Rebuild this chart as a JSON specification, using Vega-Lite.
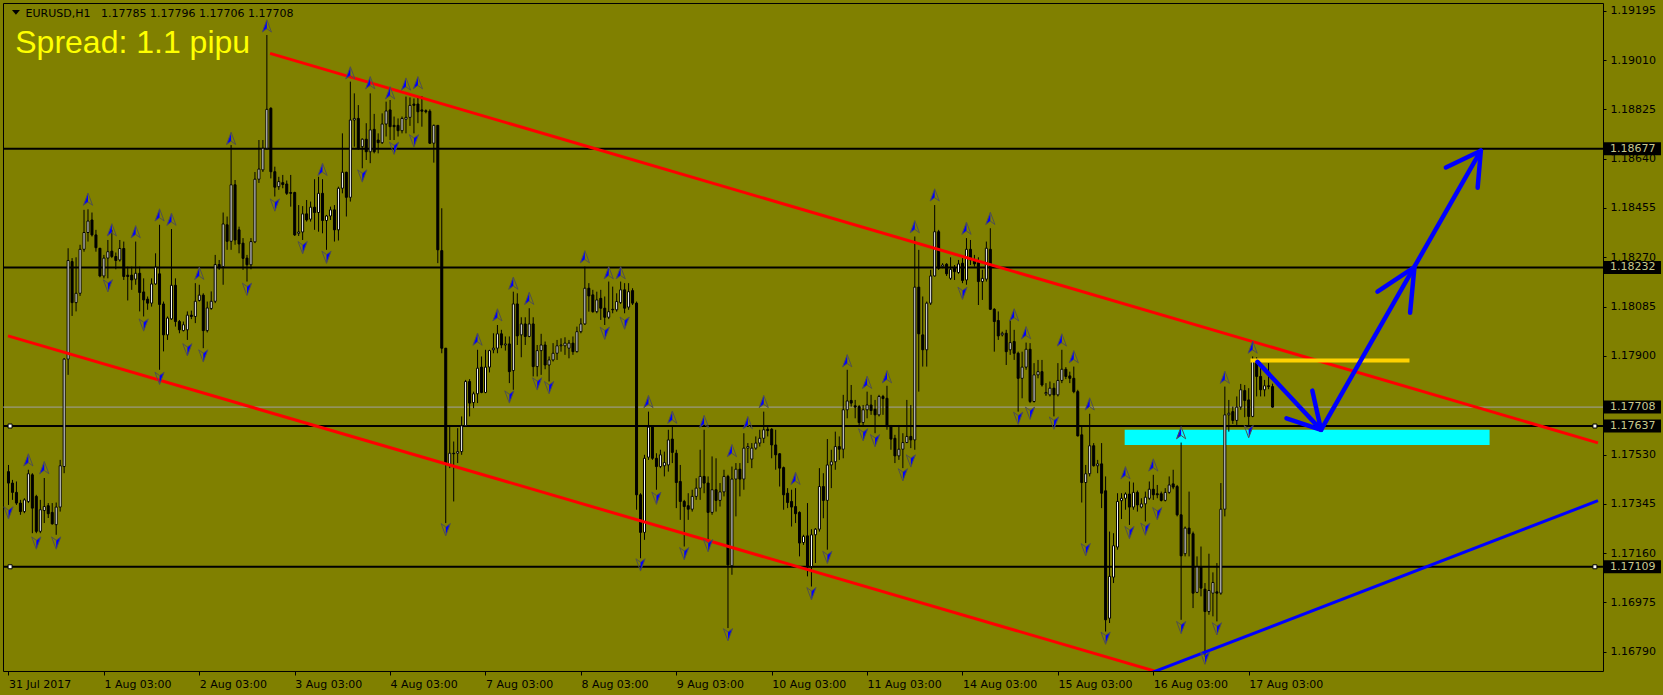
{
"$schema": "https://vega.github.io/schema/vega-lite/v6.json",
"width": 1600, "height": 668,
"autosize": {"type": "none"},
"padding": {"left": 3, "top": 3, "right": 60, "bottom": 24},
"background": "#808000",
"config": {"view": {"stroke": "#000000", "strokeWidth": 1}, "font": "DejaVu Sans"},
"datasets": {
"bars": [
{"i":0,"o":1.17466,"h":1.17491,"l":1.17341,"c":1.17423},
{"i":1,"o":1.17423,"h":1.17435,"l":1.1736,"c":1.17388},
{"i":2,"o":1.17388,"h":1.17429,"l":1.17341,"c":1.17348},
{"i":3,"o":1.17348,"h":1.1736,"l":1.17304,"c":1.17316},
{"i":4,"o":1.17316,"h":1.17366,"l":1.1731,"c":1.1736},
{"i":5,"o":1.17354,"h":1.17473,"l":1.17348,"c":1.17458},
{"i":6,"o":1.17454,"h":1.1746,"l":1.17235,"c":1.17329},
{"i":7,"o":1.17373,"h":1.17379,"l":1.17235,"c":1.17242},
{"i":8,"o":1.17242,"h":1.1736,"l":1.17235,"c":1.17323},
{"i":9,"o":1.1732,"h":1.17442,"l":1.17273,"c":1.17335},
{"i":10,"o":1.17338,"h":1.17348,"l":1.17292,"c":1.17308},
{"i":11,"o":1.17313,"h":1.17348,"l":1.17267,"c":1.1727},
{"i":12,"o":1.17267,"h":1.1735,"l":1.17229,"c":1.17333},
{"i":13,"o":1.17333,"h":1.1751,"l":1.17316,"c":1.17488},
{"i":14,"o":1.17485,"h":1.17892,"l":1.1746,"c":1.17888},
{"i":15,"o":1.17888,"h":1.18304,"l":1.17829,"c":1.18258},
{"i":16,"o":1.18254,"h":1.18267,"l":1.1805,"c":1.181},
{"i":17,"o":1.181,"h":1.1827,"l":1.18067,"c":1.18135},
{"i":18,"o":1.18135,"h":1.18317,"l":1.18125,"c":1.183},
{"i":19,"o":1.183,"h":1.18448,"l":1.18291,"c":1.18363},
{"i":20,"o":1.18363,"h":1.1845,"l":1.18329,"c":1.18406},
{"i":21,"o":1.1841,"h":1.18438,"l":1.18348,"c":1.18354},
{"i":22,"o":1.18354,"h":1.18373,"l":1.18291,"c":1.18306},
{"i":23,"o":1.18304,"h":1.18304,"l":1.18195,"c":1.182},
{"i":24,"o":1.182,"h":1.18279,"l":1.18191,"c":1.18267},
{"i":25,"o":1.18267,"h":1.18335,"l":1.18191,"c":1.18291},
{"i":26,"o":1.18293,"h":1.18373,"l":1.18267,"c":1.18273},
{"i":27,"o":1.18273,"h":1.18288,"l":1.18225,"c":1.18258},
{"i":28,"o":1.1826,"h":1.18335,"l":1.18254,"c":1.18303},
{"i":29,"o":1.18303,"h":1.18329,"l":1.18185,"c":1.18198},
{"i":30,"o":1.18203,"h":1.18235,"l":1.18108,"c":1.18198},
{"i":31,"o":1.18203,"h":1.18235,"l":1.18148,"c":1.18185},
{"i":32,"o":1.18188,"h":1.18329,"l":1.18167,"c":1.1821},
{"i":33,"o":1.1821,"h":1.18235,"l":1.18067,"c":1.18138},
{"i":34,"o":1.1814,"h":1.18191,"l":1.18048,"c":1.1811},
{"i":35,"o":1.18113,"h":1.18123,"l":1.18073,"c":1.18098},
{"i":36,"o":1.18098,"h":1.18191,"l":1.18085,"c":1.1817},
{"i":37,"o":1.1817,"h":1.18285,"l":1.18167,"c":1.18233},
{"i":38,"o":1.18208,"h":1.18392,"l":1.17848,"c":1.18093},
{"i":39,"o":1.18095,"h":1.18104,"l":1.17917,"c":1.17979},
{"i":40,"o":1.17979,"h":1.18048,"l":1.1796,"c":1.18042},
{"i":41,"o":1.18039,"h":1.18376,"l":1.18035,"c":1.18165},
{"i":42,"o":1.18165,"h":1.18191,"l":1.1801,"c":1.18029},
{"i":43,"o":1.18029,"h":1.18035,"l":1.17985,"c":1.17998},
{"i":44,"o":1.17995,"h":1.18029,"l":1.17992,"c":1.18017},
{"i":45,"o":1.17998,"h":1.18067,"l":1.1796,"c":1.18053},
{"i":46,"o":1.18053,"h":1.1807,"l":1.18038,"c":1.18048},
{"i":47,"o":1.18048,"h":1.18173,"l":1.18023,"c":1.18105},
{"i":48,"o":1.18108,"h":1.18167,"l":1.18104,"c":1.18128},
{"i":49,"o":1.18128,"h":1.18135,"l":1.17929,"c":1.17995},
{"i":50,"o":1.17995,"h":1.18104,"l":1.17988,"c":1.1808},
{"i":51,"o":1.18078,"h":1.18142,"l":1.18073,"c":1.18105},
{"i":52,"o":1.18105,"h":1.18279,"l":1.18098,"c":1.18243},
{"i":53,"o":1.18243,"h":1.1826,"l":1.18223,"c":1.1823},
{"i":54,"o":1.18235,"h":1.18438,"l":1.18167,"c":1.18395},
{"i":55,"o":1.18392,"h":1.18423,"l":1.18298,"c":1.1833},
{"i":56,"o":1.1833,"h":1.18691,"l":1.18298,"c":1.18542},
{"i":57,"o":1.18542,"h":1.1856,"l":1.18317,"c":1.18335},
{"i":58,"o":1.18373,"h":1.18385,"l":1.18285,"c":1.1832},
{"i":59,"o":1.18323,"h":1.18342,"l":1.18223,"c":1.18266},
{"i":60,"o":1.18267,"h":1.18279,"l":1.18179,"c":1.18242},
{"i":61,"o":1.18242,"h":1.18342,"l":1.18225,"c":1.18329},
{"i":62,"o":1.18328,"h":1.1859,"l":1.18323,"c":1.18563},
{"i":63,"o":1.18563,"h":1.1871,"l":1.18549,"c":1.18601},
{"i":64,"o":1.18598,"h":1.1871,"l":1.1859,"c":1.18679},
{"i":65,"o":1.18679,"h":1.19104,"l":1.18673,"c":1.18825},
{"i":66,"o":1.18829,"h":1.18833,"l":1.18566,"c":1.18591},
{"i":67,"o":1.18591,"h":1.1861,"l":1.18498,"c":1.18533},
{"i":68,"o":1.18535,"h":1.18572,"l":1.18523,"c":1.18554},
{"i":69,"o":1.1855,"h":1.18579,"l":1.18529,"c":1.18543},
{"i":70,"o":1.18545,"h":1.18558,"l":1.18504,"c":1.1851},
{"i":71,"o":1.18513,"h":1.18579,"l":1.1846,"c":1.1851},
{"i":72,"o":1.18513,"h":1.18516,"l":1.1835,"c":1.18354},
{"i":73,"o":1.1836,"h":1.18466,"l":1.1835,"c":1.18365},
{"i":74,"o":1.18365,"h":1.18462,"l":1.18335,"c":1.18433},
{"i":75,"o":1.18433,"h":1.18485,"l":1.18404,"c":1.1841},
{"i":76,"o":1.18413,"h":1.18479,"l":1.18404,"c":1.18458},
{"i":77,"o":1.18458,"h":1.18563,"l":1.18373,"c":1.18438},
{"i":78,"o":1.18438,"h":1.18572,"l":1.18366,"c":1.1851},
{"i":79,"o":1.1851,"h":1.18563,"l":1.1836,"c":1.18408},
{"i":80,"o":1.18408,"h":1.18429,"l":1.18298,"c":1.18425},
{"i":81,"o":1.18425,"h":1.1846,"l":1.1841,"c":1.18448},
{"i":82,"o":1.18448,"h":1.18466,"l":1.18329,"c":1.18373},
{"i":83,"o":1.18373,"h":1.18535,"l":1.18333,"c":1.18529},
{"i":84,"o":1.18529,"h":1.18735,"l":1.1851,"c":1.18589},
{"i":85,"o":1.18589,"h":1.18591,"l":1.18423,"c":1.18495},
{"i":86,"o":1.18495,"h":1.18929,"l":1.18479,"c":1.18785},
{"i":87,"o":1.18785,"h":1.18885,"l":1.18685,"c":1.18791},
{"i":88,"o":1.18791,"h":1.18841,"l":1.18673,"c":1.18679},
{"i":89,"o":1.18685,"h":1.18716,"l":1.18604,"c":1.18713},
{"i":90,"o":1.18713,"h":1.18773,"l":1.18635,"c":1.18666},
{"i":91,"o":1.18666,"h":1.18885,"l":1.18623,"c":1.18748},
{"i":92,"o":1.1875,"h":1.18808,"l":1.1866,"c":1.18666},
{"i":93,"o":1.1871,"h":1.18735,"l":1.1866,"c":1.187},
{"i":94,"o":1.187,"h":1.1881,"l":1.18695,"c":1.1877},
{"i":95,"o":1.1877,"h":1.18854,"l":1.18723,"c":1.18819},
{"i":96,"o":1.18823,"h":1.1886,"l":1.1871,"c":1.1876},
{"i":97,"o":1.18765,"h":1.18798,"l":1.1871,"c":1.1876},
{"i":98,"o":1.18765,"h":1.18791,"l":1.18723,"c":1.18745},
{"i":99,"o":1.18745,"h":1.18798,"l":1.18735,"c":1.18791},
{"i":100,"o":1.18788,"h":1.18873,"l":1.18735,"c":1.18795},
{"i":101,"o":1.18795,"h":1.1887,"l":1.18763,"c":1.1884},
{"i":102,"o":1.18845,"h":1.18866,"l":1.18735,"c":1.1884},
{"i":103,"o":1.18845,"h":1.1887,"l":1.18773,"c":1.18816},
{"i":104,"o":1.18823,"h":1.18875,"l":1.1876,"c":1.18818},
{"i":105,"o":1.1882,"h":1.18825,"l":1.1881,"c":1.18816},
{"i":106,"o":1.18818,"h":1.18825,"l":1.18695,"c":1.18698},
{"i":107,"o":1.18698,"h":1.18768,"l":1.18625,"c":1.18765},
{"i":108,"o":1.18765,"h":1.18765,"l":1.18248,"c":1.18298},
{"i":109,"o":1.18295,"h":1.18454,"l":1.1791,"c":1.17929},
{"i":110,"o":1.17929,"h":1.17929,"l":1.17273,"c":1.17498},
{"i":111,"o":1.17491,"h":1.17641,"l":1.17479,"c":1.17535},
{"i":112,"o":1.17535,"h":1.17579,"l":1.17354,"c":1.17533},
{"i":113,"o":1.17535,"h":1.17629,"l":1.17498,"c":1.17541},
{"i":114,"o":1.17541,"h":1.17673,"l":1.17529,"c":1.17638},
{"i":115,"o":1.17638,"h":1.1781,"l":1.17635,"c":1.17804},
{"i":116,"o":1.17804,"h":1.17813,"l":1.17673,"c":1.17723},
{"i":117,"o":1.17725,"h":1.17766,"l":1.17704,"c":1.17758},
{"i":118,"o":1.17758,"h":1.17923,"l":1.17723,"c":1.17854},
{"i":119,"o":1.17858,"h":1.17898,"l":1.1776,"c":1.17763},
{"i":120,"o":1.17763,"h":1.17923,"l":1.1776,"c":1.17858},
{"i":121,"o":1.17858,"h":1.17923,"l":1.17838,"c":1.1792},
{"i":122,"o":1.17923,"h":1.17985,"l":1.1791,"c":1.17929},
{"i":123,"o":1.17929,"h":1.18016,"l":1.1791,"c":1.17983},
{"i":124,"o":1.17983,"h":1.17998,"l":1.17929,"c":1.17941},
{"i":125,"o":1.17941,"h":1.17973,"l":1.1792,"c":1.17945},
{"i":126,"o":1.17945,"h":1.17973,"l":1.17798,"c":1.17841},
{"i":127,"o":1.17845,"h":1.18141,"l":1.17773,"c":1.18095},
{"i":128,"o":1.18095,"h":1.18135,"l":1.17941,"c":1.17975},
{"i":129,"o":1.17979,"h":1.18045,"l":1.17895,"c":1.1802},
{"i":130,"o":1.1802,"h":1.18045,"l":1.17941,"c":1.17973},
{"i":131,"o":1.17973,"h":1.18079,"l":1.1797,"c":1.1802},
{"i":132,"o":1.1802,"h":1.18045,"l":1.17823,"c":1.1786},
{"i":133,"o":1.1786,"h":1.17941,"l":1.17823,"c":1.1792},
{"i":134,"o":1.1792,"h":1.17983,"l":1.17829,"c":1.17941},
{"i":135,"o":1.17941,"h":1.17954,"l":1.1785,"c":1.17866},
{"i":136,"o":1.17866,"h":1.17898,"l":1.17804,"c":1.17885},
{"i":137,"o":1.17885,"h":1.17948,"l":1.17879,"c":1.1791},
{"i":138,"o":1.1791,"h":1.1796,"l":1.17885,"c":1.17938},
{"i":139,"o":1.17938,"h":1.17966,"l":1.17916,"c":1.17941},
{"i":140,"o":1.17938,"h":1.1797,"l":1.17904,"c":1.17948},
{"i":141,"o":1.17929,"h":1.1796,"l":1.17891,"c":1.17948},
{"i":142,"o":1.17948,"h":1.17973,"l":1.17904,"c":1.17916},
{"i":143,"o":1.17916,"h":1.1801,"l":1.17913,"c":1.17991},
{"i":144,"o":1.17991,"h":1.18041,"l":1.17985,"c":1.1802},
{"i":145,"o":1.1802,"h":1.18235,"l":1.18016,"c":1.18154},
{"i":146,"o":1.18154,"h":1.18173,"l":1.18066,"c":1.18125},
{"i":147,"o":1.18129,"h":1.18148,"l":1.18062,"c":1.18066},
{"i":148,"o":1.18066,"h":1.18141,"l":1.1806,"c":1.1811},
{"i":149,"o":1.18116,"h":1.18148,"l":1.18035,"c":1.18079},
{"i":150,"o":1.18079,"h":1.18123,"l":1.18016,"c":1.18045},
{"i":151,"o":1.18045,"h":1.18179,"l":1.18038,"c":1.18066},
{"i":152,"o":1.18075,"h":1.1816,"l":1.1806,"c":1.18073},
{"i":153,"o":1.18073,"h":1.18135,"l":1.18066,"c":1.18104},
{"i":154,"o":1.181,"h":1.18179,"l":1.18095,"c":1.18148},
{"i":155,"o":1.18148,"h":1.18173,"l":1.1806,"c":1.18079},
{"i":156,"o":1.18083,"h":1.18173,"l":1.18073,"c":1.18141},
{"i":157,"o":1.18145,"h":1.18154,"l":1.18091,"c":1.18098},
{"i":158,"o":1.18098,"h":1.18104,"l":1.17323,"c":1.17379},
{"i":159,"o":1.17379,"h":1.17385,"l":1.17141,"c":1.17238},
{"i":160,"o":1.17238,"h":1.17529,"l":1.1721,"c":1.17516},
{"i":161,"o":1.1752,"h":1.17691,"l":1.1751,"c":1.17633},
{"i":162,"o":1.17633,"h":1.1764,"l":1.1751,"c":1.17516},
{"i":163,"o":1.17516,"h":1.17535,"l":1.17398,"c":1.17485},
{"i":164,"o":1.17485,"h":1.17548,"l":1.17479,"c":1.17529},
{"i":165,"o":1.17488,"h":1.17541,"l":1.17448,"c":1.175},
{"i":166,"o":1.17491,"h":1.17623,"l":1.17466,"c":1.17585},
{"i":167,"o":1.17588,"h":1.17635,"l":1.17498,"c":1.17538},
{"i":168,"o":1.17535,"h":1.17548,"l":1.17329,"c":1.17425},
{"i":169,"o":1.17429,"h":1.17491,"l":1.17285,"c":1.17354},
{"i":170,"o":1.17354,"h":1.1736,"l":1.17185,"c":1.17335},
{"i":171,"o":1.17338,"h":1.17385,"l":1.17285,"c":1.17325},
{"i":172,"o":1.17325,"h":1.17398,"l":1.17316,"c":1.17373},
{"i":173,"o":1.17373,"h":1.17441,"l":1.1736,"c":1.17404},
{"i":174,"o":1.17404,"h":1.17548,"l":1.1736,"c":1.17448},
{"i":175,"o":1.17448,"h":1.17623,"l":1.17385,"c":1.17423},
{"i":176,"o":1.17423,"h":1.17448,"l":1.1721,"c":1.17313},
{"i":177,"o":1.17313,"h":1.17523,"l":1.17304,"c":1.17398},
{"i":178,"o":1.17398,"h":1.17516,"l":1.17316,"c":1.17358},
{"i":179,"o":1.17358,"h":1.17423,"l":1.17335,"c":1.1739},
{"i":180,"o":1.1739,"h":1.17473,"l":1.17373,"c":1.17448},
{"i":181,"o":1.17448,"h":1.17454,"l":1.16879,"c":1.17116},
{"i":182,"o":1.17113,"h":1.17485,"l":1.17079,"c":1.17438},
{"i":183,"o":1.17438,"h":1.17498,"l":1.17298,"c":1.17475},
{"i":184,"o":1.17475,"h":1.17498,"l":1.17373,"c":1.17438},
{"i":185,"o":1.17438,"h":1.1761,"l":1.17398,"c":1.17554},
{"i":186,"o":1.17554,"h":1.17573,"l":1.17498,"c":1.1756},
{"i":187,"o":1.17513,"h":1.17573,"l":1.17479,"c":1.17554},
{"i":188,"o":1.17554,"h":1.17598,"l":1.17548,"c":1.17573},
{"i":189,"o":1.17573,"h":1.17623,"l":1.1756,"c":1.17591},
{"i":190,"o":1.17591,"h":1.17691,"l":1.17573,"c":1.17623},
{"i":191,"o":1.17625,"h":1.17635,"l":1.17598,"c":1.1762},
{"i":192,"o":1.17625,"h":1.17629,"l":1.17516,"c":1.17566},
{"i":193,"o":1.17566,"h":1.17623,"l":1.17473,"c":1.17529},
{"i":194,"o":1.17533,"h":1.17535,"l":1.1741,"c":1.17479},
{"i":195,"o":1.17481,"h":1.17485,"l":1.17323,"c":1.17379},
{"i":196,"o":1.17385,"h":1.17404,"l":1.17329,"c":1.1735},
{"i":197,"o":1.17354,"h":1.17398,"l":1.1726,"c":1.17333},
{"i":198,"o":1.17335,"h":1.17404,"l":1.17273,"c":1.17308},
{"i":199,"o":1.17313,"h":1.17317,"l":1.17148,"c":1.17198},
{"i":200,"o":1.172,"h":1.17229,"l":1.17191,"c":1.17223},
{"i":201,"o":1.17225,"h":1.17348,"l":1.17073,"c":1.1711},
{"i":202,"o":1.1711,"h":1.1725,"l":1.17035,"c":1.17229},
{"i":203,"o":1.17229,"h":1.17254,"l":1.17123,"c":1.1725},
{"i":204,"o":1.1725,"h":1.17479,"l":1.17241,"c":1.1741},
{"i":205,"o":1.1741,"h":1.1746,"l":1.17291,"c":1.17358},
{"i":206,"o":1.17358,"h":1.17588,"l":1.17173,"c":1.17491},
{"i":207,"o":1.17491,"h":1.17548,"l":1.17404,"c":1.17503},
{"i":208,"o":1.17503,"h":1.17616,"l":1.17473,"c":1.1756},
{"i":209,"o":1.1756,"h":1.17598,"l":1.1751,"c":1.1755},
{"i":210,"o":1.1755,"h":1.17754,"l":1.17516,"c":1.17698},
{"i":211,"o":1.17698,"h":1.17848,"l":1.17666,"c":1.17731},
{"i":212,"o":1.17733,"h":1.17791,"l":1.1771,"c":1.17723},
{"i":213,"o":1.17713,"h":1.17735,"l":1.17666,"c":1.17708},
{"i":214,"o":1.1771,"h":1.17716,"l":1.17638,"c":1.1765},
{"i":215,"o":1.1765,"h":1.17716,"l":1.17635,"c":1.17698},
{"i":216,"o":1.17698,"h":1.17766,"l":1.17666,"c":1.17716},
{"i":217,"o":1.17716,"h":1.17754,"l":1.17679,"c":1.17695},
{"i":218,"o":1.177,"h":1.17735,"l":1.1761,"c":1.17679},
{"i":219,"o":1.17679,"h":1.17754,"l":1.17673,"c":1.17748},
{"i":220,"o":1.17748,"h":1.17754,"l":1.17679,"c":1.1774},
{"i":221,"o":1.17741,"h":1.17788,"l":1.17623,"c":1.17635},
{"i":222,"o":1.17638,"h":1.17641,"l":1.17548,"c":1.17588},
{"i":223,"o":1.17591,"h":1.17604,"l":1.17498,"c":1.17525},
{"i":224,"o":1.17525,"h":1.17641,"l":1.1751,"c":1.1755},
{"i":225,"o":1.1755,"h":1.1761,"l":1.17479,"c":1.17575},
{"i":226,"o":1.17575,"h":1.17735,"l":1.17573,"c":1.17598},
{"i":227,"o":1.17598,"h":1.17716,"l":1.17554,"c":1.17585},
{"i":228,"o":1.17585,"h":1.18348,"l":1.17548,"c":1.18158},
{"i":229,"o":1.18158,"h":1.18298,"l":1.17766,"c":1.17983},
{"i":230,"o":1.17979,"h":1.18123,"l":1.1786,"c":1.17923},
{"i":231,"o":1.17923,"h":1.18104,"l":1.1786,"c":1.18098},
{"i":232,"o":1.18098,"h":1.18223,"l":1.18091,"c":1.182},
{"i":233,"o":1.182,"h":1.18466,"l":1.18198,"c":1.18366},
{"i":234,"o":1.18366,"h":1.18373,"l":1.18223,"c":1.18229},
{"i":235,"o":1.18235,"h":1.18248,"l":1.18229,"c":1.18241},
{"i":236,"o":1.18244,"h":1.18248,"l":1.182,"c":1.18208},
{"i":237,"o":1.18191,"h":1.1827,"l":1.18185,"c":1.18225},
{"i":238,"o":1.18229,"h":1.18241,"l":1.18185,"c":1.18216},
{"i":239,"o":1.18213,"h":1.1826,"l":1.18208,"c":1.18245},
{"i":240,"o":1.18248,"h":1.18267,"l":1.18173,"c":1.18183},
{"i":241,"o":1.18185,"h":1.18342,"l":1.18167,"c":1.183},
{"i":242,"o":1.183,"h":1.18335,"l":1.18241,"c":1.1826},
{"i":243,"o":1.1826,"h":1.18279,"l":1.18235,"c":1.18245},
{"i":244,"o":1.1825,"h":1.1827,"l":1.18091,"c":1.18179},
{"i":245,"o":1.18179,"h":1.18223,"l":1.1811,"c":1.18191},
{"i":246,"o":1.18188,"h":1.18329,"l":1.18179,"c":1.18304},
{"i":247,"o":1.183,"h":1.18379,"l":1.18073,"c":1.18075},
{"i":248,"o":1.18075,"h":1.18079,"l":1.17916,"c":1.18029},
{"i":249,"o":1.18033,"h":1.18067,"l":1.1796,"c":1.17975},
{"i":250,"o":1.17979,"h":1.17991,"l":1.17973,"c":1.17985},
{"i":251,"o":1.17985,"h":1.17998,"l":1.17866,"c":1.17916},
{"i":252,"o":1.17923,"h":1.18035,"l":1.17904,"c":1.1795},
{"i":253,"o":1.17954,"h":1.17998,"l":1.17885,"c":1.1791},
{"i":254,"o":1.1791,"h":1.17916,"l":1.17691,"c":1.17816},
{"i":255,"o":1.17816,"h":1.17916,"l":1.17741,"c":1.17858},
{"i":256,"o":1.17858,"h":1.1795,"l":1.17848,"c":1.17925},
{"i":257,"o":1.17925,"h":1.17948,"l":1.17723,"c":1.17729},
{"i":258,"o":1.17729,"h":1.17873,"l":1.17725,"c":1.17829},
{"i":259,"o":1.17829,"h":1.17885,"l":1.17816,"c":1.17841},
{"i":260,"o":1.17841,"h":1.17885,"l":1.17785,"c":1.17791},
{"i":261,"o":1.17758,"h":1.17798,"l":1.1775,"c":1.17763},
{"i":262,"o":1.17754,"h":1.17804,"l":1.17748,"c":1.17779},
{"i":263,"o":1.17779,"h":1.17798,"l":1.17673,"c":1.17754},
{"i":264,"o":1.17754,"h":1.17873,"l":1.17748,"c":1.17808},
{"i":265,"o":1.17808,"h":1.17923,"l":1.17798,"c":1.1785},
{"i":266,"o":1.1785,"h":1.17858,"l":1.17813,"c":1.17823},
{"i":267,"o":1.17825,"h":1.17841,"l":1.17798,"c":1.17816},
{"i":268,"o":1.17816,"h":1.1786,"l":1.1776,"c":1.17766},
{"i":269,"o":1.17766,"h":1.17773,"l":1.17598,"c":1.176},
{"i":270,"o":1.17604,"h":1.17635,"l":1.1735,"c":1.17425},
{"i":271,"o":1.17425,"h":1.17491,"l":1.17198,"c":1.17458},
{"i":272,"o":1.17458,"h":1.17683,"l":1.17448,"c":1.17563},
{"i":273,"o":1.17563,"h":1.17573,"l":1.17485,"c":1.17488},
{"i":274,"o":1.17488,"h":1.1751,"l":1.1746,"c":1.17495},
{"i":275,"o":1.17495,"h":1.17573,"l":1.17329,"c":1.17385},
{"i":276,"o":1.17394,"h":1.17448,"l":1.16866,"c":1.1691},
{"i":277,"o":1.16916,"h":1.17241,"l":1.16898,"c":1.17073},
{"i":278,"o":1.1707,"h":1.17235,"l":1.17048,"c":1.17188},
{"i":279,"o":1.17183,"h":1.17385,"l":1.17173,"c":1.17354},
{"i":280,"o":1.17357,"h":1.17385,"l":1.17288,"c":1.17366},
{"i":281,"o":1.17366,"h":1.17388,"l":1.17323,"c":1.17382},
{"i":282,"o":1.17382,"h":1.17429,"l":1.17266,"c":1.17333},
{"i":283,"o":1.17333,"h":1.17425,"l":1.17323,"c":1.17388},
{"i":284,"o":1.17388,"h":1.17395,"l":1.17316,"c":1.17341},
{"i":285,"o":1.17333,"h":1.17366,"l":1.17328,"c":1.17345},
{"i":286,"o":1.17345,"h":1.17391,"l":1.17279,"c":1.1737},
{"i":287,"o":1.17366,"h":1.17429,"l":1.1736,"c":1.174},
{"i":288,"o":1.174,"h":1.17454,"l":1.1736,"c":1.17379},
{"i":289,"o":1.17383,"h":1.17416,"l":1.17366,"c":1.17379},
{"i":290,"o":1.17383,"h":1.17391,"l":1.17354,"c":1.17358},
{"i":291,"o":1.17358,"h":1.17404,"l":1.17354,"c":1.17388},
{"i":292,"o":1.17388,"h":1.17448,"l":1.17383,"c":1.17416},
{"i":293,"o":1.1742,"h":1.17473,"l":1.174,"c":1.17408},
{"i":294,"o":1.1741,"h":1.17416,"l":1.17298,"c":1.17304},
{"i":295,"o":1.17304,"h":1.17575,"l":1.1691,"c":1.1715},
{"i":296,"o":1.17158,"h":1.1726,"l":1.17148,"c":1.17254},
{"i":297,"o":1.17254,"h":1.17391,"l":1.17148,"c":1.17233},
{"i":298,"o":1.17233,"h":1.17241,"l":1.16954,"c":1.1701},
{"i":299,"o":1.17013,"h":1.17148,"l":1.1701,"c":1.17108},
{"i":300,"o":1.17108,"h":1.17185,"l":1.16998,"c":1.17029},
{"i":301,"o":1.17025,"h":1.17048,"l":1.16773,"c":1.16941},
{"i":302,"o":1.16941,"h":1.17158,"l":1.16929,"c":1.1702},
{"i":303,"o":1.1701,"h":1.17088,"l":1.16923,"c":1.1705},
{"i":304,"o":1.17015,"h":1.17123,"l":1.16904,"c":1.1701},
{"i":305,"o":1.1701,"h":1.17423,"l":1.17004,"c":1.17325},
{"i":306,"o":1.17325,"h":1.17785,"l":1.17298,"c":1.17679},
{"i":307,"o":1.17679,"h":1.17735,"l":1.17616,"c":1.17685},
{"i":308,"o":1.17691,"h":1.1771,"l":1.17645,"c":1.17658},
{"i":309,"o":1.17658,"h":1.17748,"l":1.17641,"c":1.17708},
{"i":310,"o":1.17708,"h":1.17795,"l":1.17698,"c":1.17773},
{"i":311,"o":1.1777,"h":1.17791,"l":1.1767,"c":1.17733},
{"i":312,"o":1.17735,"h":1.17779,"l":1.17635,"c":1.17673},
{"i":313,"o":1.17673,"h":1.17898,"l":1.1767,"c":1.17879},
{"i":314,"o":1.17879,"h":1.17895,"l":1.17748,"c":1.17823},
{"i":315,"o":1.17823,"h":1.17854,"l":1.17748,"c":1.17773},
{"i":316,"o":1.17773,"h":1.1781,"l":1.17748,"c":1.17788},
{"i":317,"o":1.17788,"h":1.17873,"l":1.17775,"c":1.17785},
{"i":318,"o":1.17785,"h":1.17796,"l":1.17706,"c":1.17708}
],
"fractals": [
{"i":0,"p":1.17311,"d":"d"},{"i":5,"p":1.1751,"d":"u"},{"i":7,"p":1.17198,"d":"d"},{"i":9,"p":1.17481,"d":"u"},{"i":12,"p":1.17198,"d":"d"},
{"i":20,"p":1.18488,"d":"u"},{"i":25,"p":1.18163,"d":"d"},{"i":26,"p":1.18373,"d":"u"},{"i":32,"p":1.18366,"d":"u"},{"i":34,"p":1.18016,"d":"d"},
{"i":38,"p":1.18429,"d":"u"},{"i":38,"p":1.17816,"d":"d"},{"i":41,"p":1.18413,"d":"u"},{"i":45,"p":1.17923,"d":"d"},{"i":48,"p":1.1821,"d":"u"},
{"i":49,"p":1.179,"d":"d"},{"i":56,"p":1.18716,"d":"u"},{"i":60,"p":1.1815,"d":"d"},{"i":65,"p":1.19138,"d":"u"},{"i":67,"p":1.18466,"d":"d"},
{"i":74,"p":1.18306,"d":"d"},{"i":79,"p":1.186,"d":"u"},{"i":80,"p":1.1827,"d":"d"},{"i":86,"p":1.18962,"d":"u"},{"i":89,"p":1.18575,"d":"d"},
{"i":91,"p":1.18925,"d":"u"},{"i":96,"p":1.18887,"d":"u"},{"i":97,"p":1.18679,"d":"d"},{"i":100,"p":1.1892,"d":"u"},{"i":102,"p":1.18707,"d":"d"},
{"i":103,"p":1.18925,"d":"u"},{"i":110,"p":1.17248,"d":"d"},{"i":118,"p":1.17963,"d":"u"},{"i":123,"p":1.18054,"d":"u"},{"i":126,"p":1.17746,"d":"d"},
{"i":127,"p":1.18173,"d":"u"},{"i":131,"p":1.18116,"d":"u"},{"i":133,"p":1.17795,"d":"d"},{"i":136,"p":1.17781,"d":"d"},{"i":145,"p":1.18272,"d":"u"},
{"i":150,"p":1.17985,"d":"d"},{"i":151,"p":1.18212,"d":"u"},{"i":154,"p":1.18212,"d":"u"},{"i":155,"p":1.18023,"d":"d"},{"i":159,"p":1.17116,"d":"d"},
{"i":161,"p":1.17729,"d":"u"},{"i":163,"p":1.17366,"d":"d"},{"i":167,"p":1.1767,"d":"u"},{"i":170,"p":1.17158,"d":"d"},{"i":175,"p":1.17654,"d":"u"},
{"i":176,"p":1.17188,"d":"d"},{"i":181,"p":1.16854,"d":"d"},{"i":182,"p":1.17545,"d":"u"},{"i":186,"p":1.1765,"d":"u"},{"i":190,"p":1.17729,"d":"u"},
{"i":198,"p":1.17441,"d":"u"},{"i":202,"p":1.17008,"d":"d"},{"i":206,"p":1.17144,"d":"d"},{"i":211,"p":1.17882,"d":"u"},{"i":215,"p":1.17604,"d":"d"},
{"i":216,"p":1.17801,"d":"u"},{"i":218,"p":1.17582,"d":"d"},{"i":221,"p":1.17822,"d":"u"},{"i":225,"p":1.17454,"d":"d"},{"i":227,"p":1.17506,"d":"d"},
{"i":228,"p":1.18385,"d":"u"},{"i":233,"p":1.18504,"d":"u"},{"i":240,"p":1.18135,"d":"d"},{"i":241,"p":1.18379,"d":"u"},{"i":247,"p":1.18416,"d":"u"},
{"i":253,"p":1.18054,"d":"u"},{"i":254,"p":1.17666,"d":"d"},{"i":256,"p":1.17987,"d":"u"},{"i":257,"p":1.17685,"d":"d"},{"i":263,"p":1.17648,"d":"d"},
{"i":265,"p":1.1796,"d":"u"},{"i":268,"p":1.17897,"d":"u"},{"i":271,"p":1.17173,"d":"d"},{"i":272,"p":1.1772,"d":"u"},{"i":276,"p":1.16841,"d":"d"},
{"i":281,"p":1.17462,"d":"u"},{"i":282,"p":1.17237,"d":"d"},{"i":286,"p":1.1725,"d":"d"},{"i":288,"p":1.17491,"d":"u"},{"i":289,"p":1.17308,"d":"d"},
{"i":295,"p":1.17612,"d":"u"},{"i":295,"p":1.16881,"d":"d"},{"i":301,"p":1.16766,"d":"d"},{"i":304,"p":1.16876,"d":"d"},{"i":306,"p":1.1782,"d":"u"},
{"i":312,"p":1.17616,"d":"d"},{"i":313,"p":1.17933,"d":"u"}
],
"hlines": [{"p":1.18677},{"p":1.18232},{"p":1.17637},{"p":1.17109}],
"bid": [{"p":1.17708}],
"plabels": [{"p":1.18677},{"p":1.18232},{"p":1.17708},{"p":1.17637},{"p":1.17109}],
"selpts": [{"i":0.4,"p":1.17637},{"i":399.1,"p":1.17637},{"i":0.4,"p":1.17109},{"i":399.1,"p":1.17109}],
"redlines": [{"id":"a","i":65.8,"p":1.19035},{"id":"a","i":399.875,"p":1.17574},{"id":"b","i":-0.125,"p":1.17975},{"id":"b","i":300,"p":1.16667}],
"blueline": [{"i":285,"p":1.16697},{"i":399.875,"p":1.17357}],
"zone": [{"i":280.8,"i2":372.6,"p":1.17623,"p2":1.17566}],
"gold": [{"i":312.45,"p":1.17883},{"i":352.45,"p":1.17883}],
"arrows": [
{"s":"a","o":1,"i":314.2,"p":1.17878},{"s":"a","o":2,"i":330.2,"p":1.17623},
{"s":"b","o":1,"i":321.5,"p":1.17666},{"s":"b","o":2,"i":330.2,"p":1.17623},{"s":"b","o":3,"i":328.0,"p":1.1777},
{"s":"c","o":1,"i":330.2,"p":1.17623},{"s":"c","o":2,"i":370.4,"p":1.1867},
{"s":"d","o":1,"i":344.4,"p":1.18141},{"s":"d","o":2,"i":353.7,"p":1.18233},{"s":"d","o":3,"i":352.6,"p":1.18062},
{"s":"e","o":1,"i":361.6,"p":1.18607},{"s":"e","o":2,"i":370.4,"p":1.1867},{"s":"e","o":3,"i":369.6,"p":1.18531}
],
"titletext": [{"i":4.3,"p":1.19172,"t":"EURUSD,H1\u00a0\u00a0 1.17785 1.17796 1.17706 1.17708"}],
"tri": [{"i":1.875,"p":1.19189}],
"spread": [{"i":1.7,"p":1.19035,"t":"Spread: 1.1 pipu"}]
},
"layer": [
{"data": {"name": "zone"},
 "mark": {"type": "rect", "color": "#00ffff"},
 "encoding": {
  "x": {"field": "i", "type": "quantitative",
    "scale": {"domain": [-0.125, 399.875], "nice": false, "zero": false},
    "axis": {"title": null, "orient": "bottom", "values": [0,24,48,72,96,120,144,168,192,216,240,264,288,312],
      "labelExpr": "['31 Jul 2017','1 Aug 03:00','2 Aug 03:00','3 Aug 03:00','4 Aug 03:00','7 Aug 03:00','8 Aug 03:00','9 Aug 03:00','10 Aug 03:00','11 Aug 03:00','14 Aug 03:00','15 Aug 03:00','16 Aug 03:00','17 Aug 03:00'][round(datum.value/24)]",
      "labelAlign": "left", "labelBaseline": "top", "labelPadding": 3, "tickSize": 4, "tickColor": "#000000",
      "domain": false, "grid": false, "labelFont": "DejaVu Sans", "labelFontSize": 11, "labelColor": "#000000",
      "labelOverlap": false, "labelFlush": false, "labelBound": false}},
  "x2": {"field": "i2"},
  "y": {"field": "p", "type": "quantitative",
    "scale": {"domain": [1.16718, 1.19224], "nice": false, "zero": false},
    "axis": {"title": null, "orient": "right",
      "values": [1.1679,1.16975,1.1716,1.17345,1.1753,1.179,1.18085,1.1827,1.18455,1.1864,1.18825,1.1901,1.19195],
      "format": ".5f", "tickSize": 3, "tickColor": "#000000", "labelPadding": 4, "domain": false, "grid": false,
      "labelFont": "DejaVu Sans", "labelFontSize": 11, "labelColor": "#000000", "labelOverlap": false, "labelFlush": false, "labelBaseline": "middle"}},
  "y2": {"field": "p2"}
 }},
{"data": {"name": "hlines"},
 "mark": {"type": "rule", "color": "#000000", "strokeWidth": 2},
 "encoding": {"y": {"field": "p", "type": "quantitative"}}},
{"data": {"name": "bid"},
 "mark": {"type": "rule", "color": "#a0a0a0", "strokeWidth": 1},
 "encoding": {"y": {"field": "p", "type": "quantitative"}}},
{"data": {"name": "bars"},
 "mark": {"type": "rule", "color": "#000000", "strokeWidth": 1},
 "encoding": {"x": {"field": "i", "type": "quantitative"}, "y": {"field": "l", "type": "quantitative"}, "y2": {"field": "h"}}},
{"data": {"name": "bars"},
 "mark": {"type": "bar", "size": 2, "stroke": "#000000", "strokeWidth": 1},
 "encoding": {"x": {"field": "i", "type": "quantitative"}, "y": {"field": "o", "type": "quantitative"}, "y2": {"field": "c"},
   "fill": {"condition": {"test": "datum.c >= datum.o", "value": "#ffffff"}, "value": "#000000"}}},
{"data": {"name": "redlines"},
 "mark": {"type": "line", "color": "#ff0000", "strokeWidth": 3, "clip": true},
 "encoding": {"x": {"field": "i", "type": "quantitative"}, "y": {"field": "p", "type": "quantitative"}, "detail": {"field": "id"}}},
{"data": {"name": "blueline"},
 "mark": {"type": "line", "color": "#0000ff", "strokeWidth": 3, "clip": true},
 "encoding": {"x": {"field": "i", "type": "quantitative"}, "y": {"field": "p", "type": "quantitative"}}},
{"data": {"name": "gold"},
 "mark": {"type": "line", "color": "#ffd200", "strokeWidth": 4},
 "encoding": {"x": {"field": "i", "type": "quantitative"}, "y": {"field": "p", "type": "quantitative"}}},
{"data": {"name": "arrows"},
 "mark": {"type": "line", "color": "#0000ff", "strokeWidth": 4.5, "strokeCap": "round", "strokeJoin": "round"},
 "encoding": {"x": {"field": "i", "type": "quantitative"}, "y": {"field": "p", "type": "quantitative"}, "detail": {"field": "s"}, "order": {"field": "o"}}},
{"data": {"name": "fractals"},
 "transform": [{"filter": "datum.d == 'u'"}],
 "mark": {"type": "point", "shape": "M0,-1 L0,0.45 L-0.75,1 Z", "filled": true, "fill": "#0000ff", "strokeWidth": 0, "size": 150, "opacity": 1},
 "encoding": {"x": {"field": "i", "type": "quantitative"}, "y": {"field": "p", "type": "quantitative"}}},
{"data": {"name": "fractals"},
 "transform": [{"filter": "datum.d == 'u'"}],
 "mark": {"type": "point", "shape": "M0,-1 L0.75,1 L0,0.45 L-0.75,1 Z", "filled": false, "stroke": "#505050", "strokeWidth": 1, "size": 150, "opacity": 1},
 "encoding": {"x": {"field": "i", "type": "quantitative"}, "y": {"field": "p", "type": "quantitative"}}},
{"data": {"name": "fractals"},
 "transform": [{"filter": "datum.d == 'd'"}],
 "mark": {"type": "point", "shape": "M0,1 L0,-0.45 L0.75,-1 Z", "filled": true, "fill": "#0000ff", "strokeWidth": 0, "size": 150, "opacity": 1},
 "encoding": {"x": {"field": "i", "type": "quantitative"}, "y": {"field": "p", "type": "quantitative"}}},
{"data": {"name": "fractals"},
 "transform": [{"filter": "datum.d == 'd'"}],
 "mark": {"type": "point", "shape": "M0,1 L0.75,-1 L0,-0.45 L-0.75,-1 Z", "filled": false, "stroke": "#505050", "strokeWidth": 1, "size": 150, "opacity": 1},
 "encoding": {"x": {"field": "i", "type": "quantitative"}, "y": {"field": "p", "type": "quantitative"}}},
{"data": {"name": "selpts"},
 "mark": {"type": "point", "shape": "square", "filled": true, "fill": "#ffffff", "stroke": "#000000", "strokeWidth": 1, "size": 16, "opacity": 1},
 "encoding": {"x": {"field": "i", "type": "quantitative"}, "y": {"field": "p", "type": "quantitative"}}},
{"data": {"name": "titletext"},
 "mark": {"type": "text", "font": "DejaVu Sans", "fontSize": 11, "color": "#000000", "align": "left", "baseline": "alphabetic"},
 "encoding": {"x": {"field": "i", "type": "quantitative"}, "y": {"field": "p", "type": "quantitative"}, "text": {"field": "t"}}},
{"data": {"name": "tri"},
 "mark": {"type": "point", "shape": "M-1,-0.6 L1,-0.6 L0,0.6 Z", "filled": true, "fill": "#000000", "strokeWidth": 0, "size": 64, "opacity": 1},
 "encoding": {"x": {"field": "i", "type": "quantitative"}, "y": {"field": "p", "type": "quantitative"}}},
{"data": {"name": "spread"},
 "mark": {"type": "text", "font": "Liberation Sans", "fontSize": 32, "color": "#ffff00", "align": "left", "baseline": "alphabetic"},
 "encoding": {"x": {"field": "i", "type": "quantitative"}, "y": {"field": "p", "type": "quantitative"}, "text": {"field": "t"}}},
{"data": {"name": "plabels"},
 "mark": {"type": "rect", "color": "#000000", "xOffset": 1, "x2Offset": 58, "yOffset": -6.5, "y2Offset": 6.5},
 "encoding": {"x": {"value": "width"}, "x2": {"value": "width"}, "y": {"field": "p", "type": "quantitative"}, "y2": {"field": "p"}}},
{"data": {"name": "plabels"},
 "mark": {"type": "text", "font": "DejaVu Sans", "fontSize": 11, "color": "#c8c88c", "align": "left", "baseline": "middle", "dx": 7},
 "encoding": {"x": {"value": "width"}, "y": {"field": "p", "type": "quantitative"}, "text": {"field": "p", "type": "quantitative", "format": ".5f"}}}
]
}
